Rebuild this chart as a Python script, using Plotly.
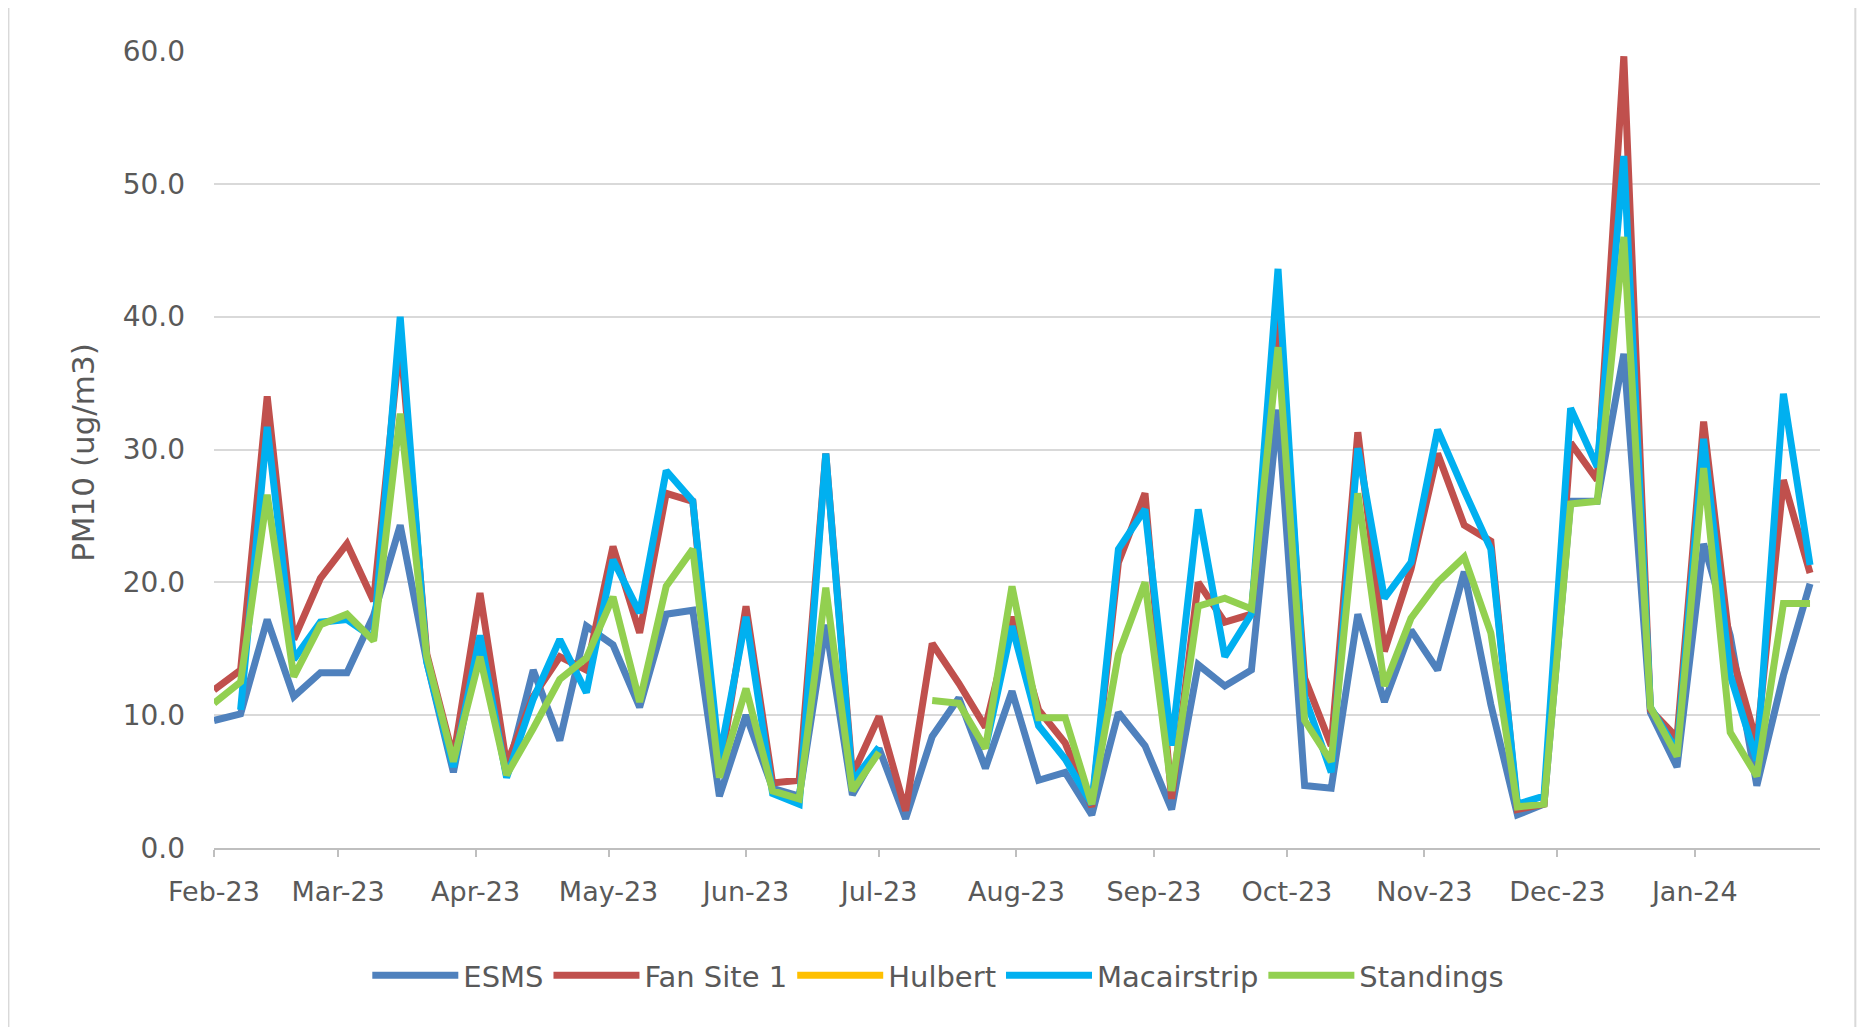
import pandas as pd
import plotly.graph_objects as go

# Sampling dates: 1-in-6-day schedule, Feb-2023 to Jan-2024
dates = pd.date_range("2023-02-01", periods=61, freq="6D")

esms = [9.6, 10.1, 17.2, 11.4, 13.2, 13.2, 17.5, 24.3, 14.0, 5.7,
        15.8, 5.5, 13.4, 8.1, 16.7, 15.3, 10.6, 17.6, 17.9, 3.9,
        10.0, 4.5, 3.9, 16.8, 4.0, 7.5, 2.2, 8.4, 11.3, 6.0,
        11.8, 5.1, 5.7, 2.5, 10.2, 7.7, 2.9, 13.8, 12.2, 13.4,
        33.0, 4.7, 4.5, 17.6, 11.0, 16.4, 13.4, 20.8, 10.8, 2.5,
        3.3, 26.1, 26.1, 37.2, 10.2, 6.1, 22.9, 16.0, 4.7, 13.0,
        19.9]

fan_site_1 = [11.9, 13.4, 34.0, 15.7, 20.3, 22.9, 18.6, 38.4, 14.6, 6.8,
              19.2, 6.3, 11.4, 14.4, 13.4, 22.7, 16.2, 26.7, 26.1, 5.5,
              18.2, 4.9, 5.1, 29.7, 5.5, 9.9, 2.8, 15.4, 12.4, 9.1,
              17.4, 10.4, 7.9, 3.1, 21.5, 26.7, 3.7, 20.0, 17.0, 17.6,
              40.0, 12.8, 7.7, 31.3, 14.8, 21.0, 29.7, 24.3, 23.1, 2.9,
              3.3, 30.5, 27.7, 59.6, 10.4, 8.3, 32.1, 15.0, 7.9, 27.7,
              20.7]

hulbert = [None]  # no data reported

macairstrip = [None, 10.4, 31.7, 14.2, 17.0, 17.2, 15.8, 40.0, 14.0, 6.1,
               16.0, 5.3, 11.2, 15.7, 11.7, 21.7, 17.7, 28.4, 26.1, 6.7,
               17.4, 4.1, 3.3, 29.7, 5.0, 7.6, None, None, None, 7.5,
               16.7, 9.2, 6.7, 3.3, 22.5, 25.5, 7.7, 25.5, 14.4, 17.6,
               43.6, 11.4, 5.7, 30.1, 18.8, 21.5, 31.5, 26.9, 22.5, 3.3,
               3.9, 33.1, 28.7, 52.1, 10.6, 7.3, 30.8, 13.0, 6.6, 34.2,
               21.3]

standings = [10.9, 12.5, 26.6, 12.9, 16.8, 17.6, 15.6, 32.7, 14.4, 6.5,
             14.4, 5.5, 9.0, 12.7, 14.3, 18.9, 11.0, 19.7, 22.5, 5.3,
             12.0, 4.3, 3.7, 19.6, 4.3, 7.2, None, 11.1, 10.9, 7.5,
             19.7, 9.8, 9.8, 3.3, 14.6, 20.0, 4.3, 18.2, 18.8, 18.0,
             37.7, 9.6, 6.5, 26.7, 12.2, 17.3, 20.0, 21.9, 16.2, 3.1,
             3.3, 25.9, 26.1, 46.0, 10.6, 6.9, 28.6, 8.7, 5.4, 18.4,
             18.4]

series = [
    ("ESMS", esms, "#4F81BD"),
    ("Fan Site 1", fan_site_1, "#C0504D"),
    ("Hulbert", hulbert, "#FFC000"),
    ("Macairstrip", macairstrip, "#00B0F0"),
    ("Standings", standings, "#92D050"),
]

y_ticks = [0, 10, 20, 30, 40, 50, 60]

fig = go.Figure()
for name, vals, color in series:
    xs = list(dates[:len(vals)])
    fig.add_trace(go.Scatter(
        x=xs, y=vals, name=name, mode="lines",
        line=dict(color=color, width=7),
        connectgaps=False, showlegend=True,
    ))

fig.update_layout(
    width=1857, height=1019,
    margin=dict(l=206, r=45, t=43, b=179),
    paper_bgcolor="white", plot_bgcolor="white",
    showlegend=True,
    legend=dict(
        orientation="h", x=0.451, xanchor="center", y=-0.16, yanchor="middle",
        font=dict(family="DejaVu Sans", size=29, color="#595959"),
        itemwidth=86, traceorder="normal",
    ),
    xaxis=dict(
        type="date",
        range=["2023-02-01", "2024-01-29 06:00"],
        tick0="2023-02-01", dtick="M1", tickformat="%b-%y",
        showgrid=False, showline=True, linecolor="#BFBFBF", linewidth=2,
        ticks="outside", ticklen=7, tickcolor="#BFBFBF", tickwidth=2,
        tickfont=dict(family="DejaVu Sans", size=27, color="#595959"),
        ticklabelstandoff=12,
    ),
    yaxis=dict(
        range=[0, 60], tickvals=y_ticks, tickformat=".1f",
        showgrid=True, gridcolor="#D9D9D9", gridwidth=2,
        zeroline=False, showline=False, ticks="",
        tickfont=dict(family="DejaVu Sans", size=28, color="#595959"),
        ticklabelstandoff=28,
    ),
    annotations=[dict(
        text="PM10 (ug/m3)", textangle=-90, showarrow=False,
        xref="paper", yref="paper", x=-0.0816, y=0.497,
        xanchor="center", yanchor="middle",
        font=dict(family="DejaVu Sans", size=31, color="#595959"),
    )],
    shapes=[dict(
        type="rect", xref="paper", yref="paper",
        x0=-0.128, x1=1.022, y0=-0.24, y1=1.056,
        line=dict(color="#D9D9D9", width=2), fillcolor="rgba(0,0,0,0)",
        layer="below",
    )],
)

fig.write_html("out.html")
